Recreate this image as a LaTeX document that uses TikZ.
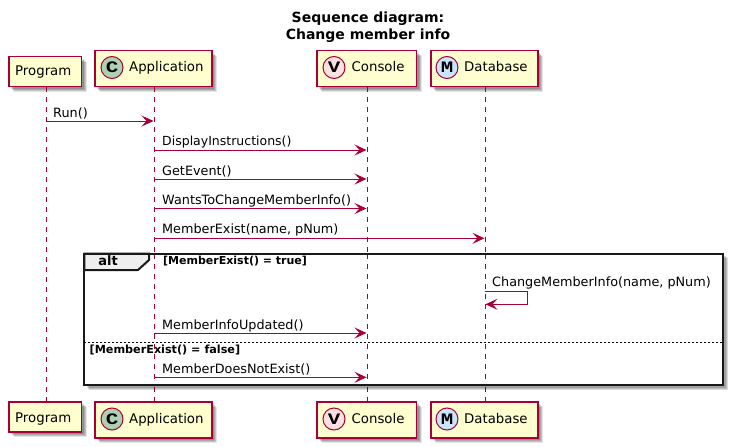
\documentclass[tikz,border=0pt]{standalone}
\usepackage{fontspec}
\setmainfont{DejaVu Sans}
\newfontfamily\monob[FakeStretch=1.3]{Liberation Mono}
\usetikzlibrary{arrows.meta,shadows,calc}
\definecolor{umlred}{HTML}{A80036}
\definecolor{umlfill}{HTML}{FEFECE}
\definecolor{framegray}{HTML}{EEEEEE}
\tikzset{
  softshadow/.style={
    general shadow={shadow xshift=2.5pt,shadow yshift=-2.5pt,opacity=.14,fill=black},
    general shadow={shadow xshift=3.5pt,shadow yshift=-3.5pt,opacity=.14,fill=black},
    general shadow={shadow xshift=4.5pt,shadow yshift=-4.5pt,opacity=.14,fill=black},
    general shadow={shadow xshift=5.5pt,shadow yshift=-5.5pt,opacity=.10,fill=black}},
  actorbox/.style={draw=umlred,fill=umlfill,line width=1.5pt,inner sep=0pt,anchor=north west,softshadow},
  badge/.style={circle,draw=umlred,line width=1pt,minimum size=22pt,inner sep=0pt,font=\monob\bfseries\fontsize{16}{16}\selectfont},
  boxtext/.style={anchor=base west,inner sep=0pt,font=\fontsize{13.3}{13}\selectfont},
  lifeline/.style={draw=umlred,line width=1pt,dash pattern=on 5pt off 5pt},
  msg/.style={draw=umlred,line width=1pt,-{Stealth[length=12pt,width=11pt,inset=5pt]}},
  msgtext/.style={anchor=base west,inner sep=0pt,font=\fontsize{12.8}{13}\selectfont},
  guard/.style={anchor=base west,inner sep=0pt,font=\bfseries\fontsize{11}{11}\selectfont},
  frameline/.style={draw=black!90,line width=2pt},
}
\begin{document}
\begin{tikzpicture}[x=1pt,y=-1pt]
\useasboundingbox (0,0) rectangle (734,447);
\fill[white] (0,0) rectangle (734,447);

% title
\node[anchor=base,inner sep=0pt,font=\bfseries\fontsize{14}{14}\selectfont] (title1) at (368,22) {Sequence diagram:};
\node[anchor=base,inner sep=0pt,font=\bfseries\fontsize{14}{14}\selectfont] (title2) at (368,39) {Change member info};

% participant boxes (top)
\node[actorbox,minimum width=72.5pt,minimum height=30pt] (progT) at (8,55.5) {};
\node[actorbox,minimum width=117pt,minimum height=36pt] (appT) at (94,49.5) {};
\node[actorbox,minimum width=99.5pt,minimum height=36pt] (conT) at (316,49.5) {};
\node[actorbox,minimum width=107pt,minimum height=36pt] (dbT) at (430,49.5) {};
% participant boxes (bottom)
\node[actorbox,minimum width=72.5pt,minimum height=30pt] (progB) at (8,401) {};
\node[actorbox,minimum width=117pt,minimum height=36pt] (appB) at (94,401) {};
\node[actorbox,minimum width=99.5pt,minimum height=36pt] (conB) at (316,401) {};
\node[actorbox,minimum width=107pt,minimum height=36pt] (dbB) at (430,401) {};

% lifelines
\draw[lifeline] (progT.south -| 46,0) coordinate (pt) -- (progB.north -| 46,0) coordinate (pb);
\draw[lifeline] (appT.south -| 154,0) coordinate (at) -- (appB.north -| 154,0) coordinate (ab);
\draw[lifeline] (conT.south -| 367,0) coordinate (ct) -- (conB.north -| 367,0) coordinate (cb);
\draw[lifeline] (dbT.south -| 485,0) coordinate (dt) -- (dbB.north -| 485,0) coordinate (db);

% labels and badges, top
\node[boxtext] (progTl) at (15,75) {Program};
\node[badge,fill={rgb,255:red,173;green,209;blue,178}] (appTc) at (112,67.5) {C};
\node[boxtext] (appTl) at (129,71) {Application};
\node[badge,fill={rgb,255:red,255;green,224;blue,224}] (conTc) at (334,67.5) {V};
\node[boxtext] (conTl) at (351.5,71) {Console};
\node[badge,fill={rgb,255:red,204;green,229;blue,255}] (dbTc) at (447,67.5) {M};
\node[boxtext] (dbTl) at (464,71) {Database};
% labels and badges, bottom
\node[boxtext] (progBl) at (15,422) {Program};
\node[badge,fill={rgb,255:red,173;green,209;blue,178}] (appBc) at (112,419) {C};
\node[boxtext] (appBl) at (129,423) {Application};
\node[badge,fill={rgb,255:red,255;green,224;blue,224}] (conBc) at (334,419) {V};
\node[boxtext] (conBl) at (351.5,423) {Console};
\node[badge,fill={rgb,255:red,204;green,229;blue,255}] (dbBc) at (447,419) {M};
\node[boxtext] (dbBl) at (464,423) {Database};

% alt frame
\fill[black,opacity=.14] (86.5,256) rectangle (725.5,387.5);
\fill[black,opacity=.14] (87.5,257) rectangle (726.5,388.5);
\fill[black,opacity=.14] (88.5,258) rectangle (727.5,389.5);
\fill[white] (84,253.5) rectangle (723,385);
\draw[lifeline] (154,253.5) -- (154,385);
\draw[lifeline] (367,253.5) -- (367,385);
\draw[lifeline] (485,253.5) -- (485,385);
\draw[draw=black!90,line width=2pt,fill=framegray] (84.3,253.5) -- (149,253.5) -- (149,260) -- (138,270) -- (84.3,270) -- cycle;
\draw[frameline] (84.3,253.5) rectangle (723,385);
\draw[black,line width=1pt,dash pattern=on 2pt off 2pt] (84.3,342) -- (723,342);
\node[anchor=base,inner sep=0pt,font=\bfseries\fontsize{13}{13}\selectfont] (alt) at (108,265.5) {alt};
\node[guard] (g1) at (163,264) {[MemberExist() = true]};
\node[guard,font=\bfseries\fontsize{11.2}{11}\selectfont] (g2) at (89.5,353) {[MemberExist() = false]};

% messages
\coordinate (m1a) at (46,121); \coordinate (m1b) at (153.5,121);
\coordinate (m2a) at (154,150); \coordinate (m2b) at (366.5,150);
\coordinate (m3a) at (154,179); \coordinate (m3b) at (366.5,179);
\coordinate (m4a) at (154,208.5); \coordinate (m4b) at (366.5,208.5);
\coordinate (m5a) at (154,238.3); \coordinate (m5b) at (484.5,238.3);
\coordinate (m6a) at (485,291.7); \coordinate (m6c) at (527.7,291.7); \coordinate (m6d) at (527.7,304.3); \coordinate (m6b) at (485.5,304.3);
\coordinate (m7a) at (154,333); \coordinate (m7b) at (366.5,333);
\coordinate (m8a) at (154,377.3); \coordinate (m8b) at (366.5,377.3);
\draw[msg] (m1a) -- (m1b);
\draw[msg] (m2a) -- (m2b);
\draw[msg] (m3a) -- (m3b);
\draw[msg] (m4a) -- (m4b);
\draw[msg] (m5a) -- (m5b);
\draw[msg] (m6a) -- (m6c) -- (m6d) -- (m6b);
\draw[msg] (m7a) -- (m7b);
\draw[msg] (m8a) -- (m8b);

\node[msgtext] (t1) at (53,117) {Run()};
\node[msgtext,font=\fontsize{12.5}{13}\selectfont] (t2) at (162,145.5) {DisplayInstructions()};
\node[msgtext] (t3) at (162,175) {GetEvent()};
\node[msgtext] (t4) at (162,204.5) {WantsToChangeMemberInfo()};
\node[msgtext] (t5) at (162,233.5) {MemberExist(name, pNum)};
\node[msgtext] (t6) at (492,286) {ChangeMemberInfo(name, pNum)};
\node[msgtext] (t7) at (162,329) {MemberInfoUpdated()};
\node[msgtext] (t8) at (162,373) {MemberDoesNotExist()};
\end{tikzpicture}
\end{document}
